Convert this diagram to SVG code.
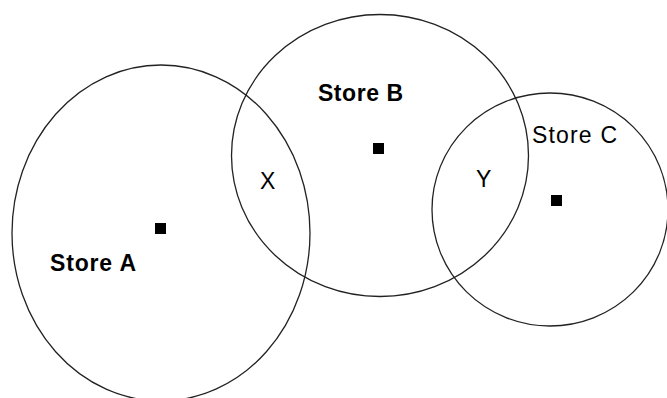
<svg xmlns="http://www.w3.org/2000/svg" width="667" height="398" viewBox="0 0 667 398">
<style>
.area{fill:none;stroke:#222;stroke-width:1.3}
.lbl{font-family:"Liberation Sans",Arial,sans-serif;font-size:23px;fill:#000}
.b{font-weight:bold}
.pt{fill:#000}
</style>
<rect width="667" height="398" fill="#fff"/>
<g id="storeA">
<ellipse class="area" cx="161" cy="233" rx="149" ry="168"/>
<rect class="pt" x="155" y="223" width="11" height="11"/>
<text class="lbl b" x="50" y="271" textLength="86" lengthAdjust="spacing">Store A</text>
</g>
<g id="storeB">
<ellipse class="area" cx="380" cy="155.5" rx="148.5" ry="141"/>
<rect class="pt" x="373" y="143" width="11" height="11"/>
<text class="lbl b" x="318" y="101" textLength="85" lengthAdjust="spacing">Store B</text>
</g>
<g id="storeC">
<ellipse class="area" cx="550" cy="209.5" rx="118" ry="116.5"/>
<rect class="pt" x="551" y="195" width="11" height="11"/>
<text class="lbl" x="532" y="143" textLength="85" lengthAdjust="spacing">Store C</text>
</g>
<g id="labels">
<text class="lbl" x="260" y="189">X</text>
<text class="lbl" x="476" y="187">Y</text>
</g>
</svg>
